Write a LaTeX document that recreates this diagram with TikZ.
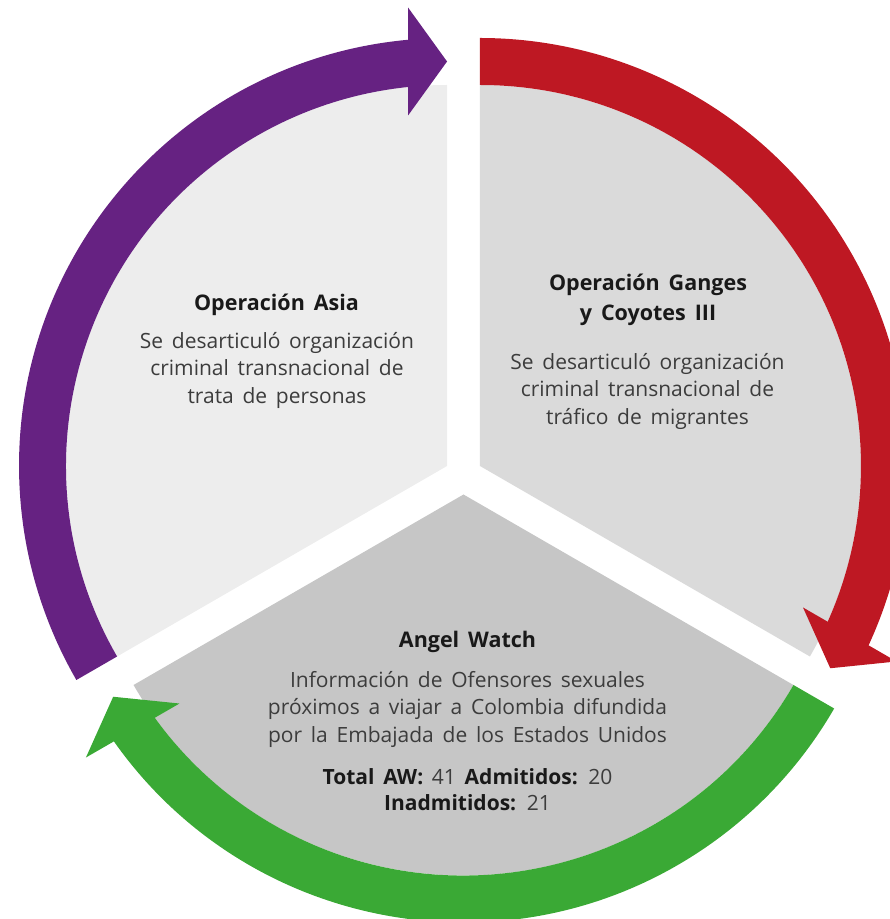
\documentclass[tikz,border=0pt]{standalone}
\usepackage{fontspec}
\setmainfont[WordSpace=1.6]{Open Sans}
\usetikzlibrary{calc}
\definecolor{asiapurple}{HTML}{662282}
\definecolor{gangesred}{HTML}{BE1823}
\definecolor{angelgreen}{HTML}{3AA935}
\definecolor{sectorA}{HTML}{EDEDED}
\definecolor{sectorB}{HTML}{DADADA}
\definecolor{sectorC}{HTML}{C6C6C6}
\definecolor{bodygray}{HTML}{3C3C3C}
% curved band around (center) from tail angle to tip angle, clockwise
\def\ringarrow[#1](#2)(#3:#4){%
  \fill[#1] ($(#2)+(#3:381)$) arc[start angle=#3, end angle=#4+4, radius=381]
    -- ($(#2)+(#4+4:428)$) arc[start angle=#4+4, end angle=#3, radius=428] -- cycle;
  \fill[#1] ($(#2)+(#4:404.5)$) -- ($(#2)+(#4:404.5)+(#4+90:39)+(#4:54)$)
    -- ($(#2)+(#4:404.5)+(#4+90:39)+(#4+180:54)$) -- cycle;}

\begin{document}
\begin{tikzpicture}[x=1pt, y=1pt,
    title/.style={font=\bfseries\fontsize{21.5}{30}\selectfont, text=black!90, align=center, inner sep=0pt},
    body/.style={font=\fontsize{21}{27.5}\selectfont, text=bodygray, align=center, inner sep=0pt}]
  \useasboundingbox (0,0) rectangle (890,919);
  %%%%% SECTORS %%%%%
  \coordinate (O) at (463.5, 443.5);
  \coordinate (A) at ($(O)+(150:19)$);
  \coordinate (B) at ($(O)+(30:19)$);
  \coordinate (C) at ($(O)+(270:19)$);

  \fill[sectorA] (A) -- ++(90:381) arc[start angle=90, end angle=210, radius=381] -- cycle;
  \fill[sectorB] (B) -- ++(-30:381) arc[start angle=-30, end angle=90, radius=381] -- cycle;
  \fill[sectorC] (C) -- ++(210:381) arc[start angle=210, end angle=330, radius=381] -- cycle;

  %%%%% ARROWS %%%%%
  \ringarrow[asiapurple](A)(210:90)
  \ringarrow[gangesred](B)(90:-30)
  \ringarrow[angelgreen](C)(330:210)

  %%%%% TEXT %%%%%
  \node[title] (asiaT) at (276.5, 614) {Operación Asia};
  \node[body] (asiaB) at (277, 549) {Se desarticuló organización\\criminal transnacional de\\trata de personas};

  \node[title] (gangesT) at (648, 619) {Operación Ganges\\y Coyotes III};
  \node[body] (gangesB) at (647.5, 528) {Se desarticuló organización\\criminal transnacional de\\tráfico de migrantes};

  \node[title] (angelT) at (467.5, 277) {Angel Watch};
  \node[body] (angelB) at (467.5, 210) {Información de Ofensores sexuales\\próximos a viajar a Colombia difundida\\por la Embajada de los Estados Unidos};
  \node[body, font=\fontsize{21}{26}\selectfont] (angelS) at (467.5, 129) {\textbf{\color{black!90}Total AW:} 41 \textbf{\color{black!90}Admitidos:} 20\\\textbf{\color{black!90}Inadmitidos:} 21};
\end{tikzpicture}
\end{document}
